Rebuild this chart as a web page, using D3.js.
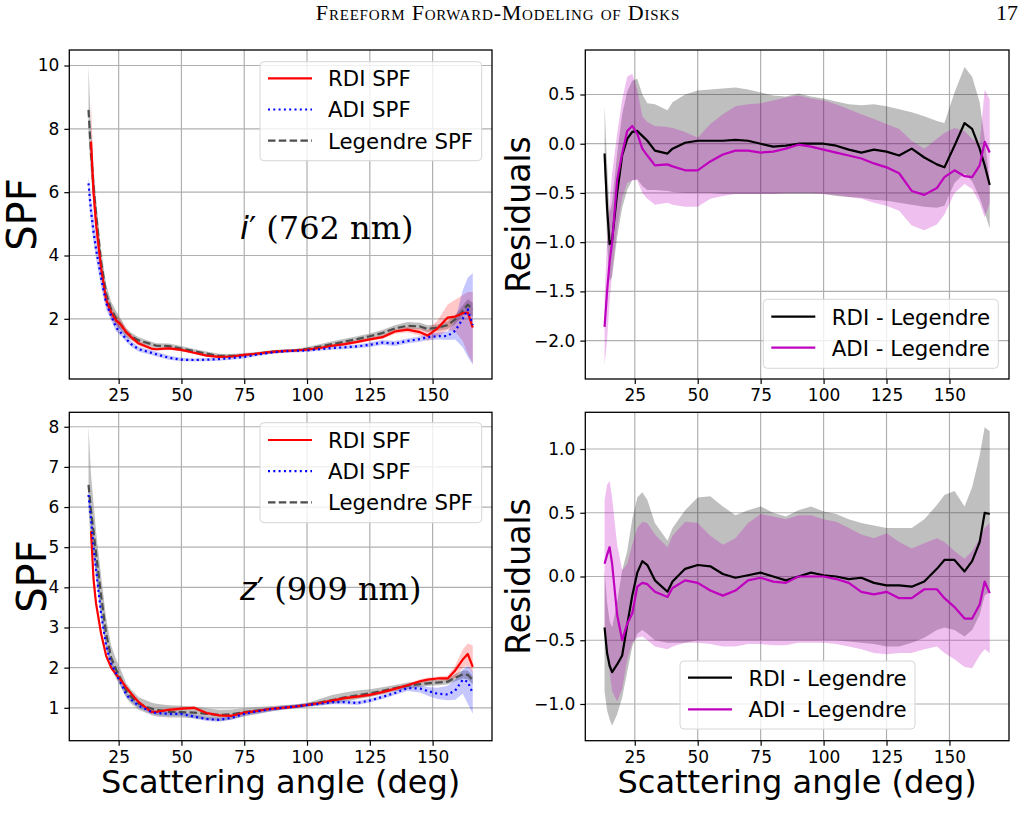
<!DOCTYPE html>
<html lang="en">
<head>
<meta charset="UTF-8">
<title>Freeform Forward-Modeling of Disks</title>
<script src="https://d3js.org/d3.v7.min.js"></script>
<style>
  body { margin: 0; background: #fff; }
  svg text { font-family: "DejaVu Sans", sans-serif; fill: #000; }
</style>
</head>
<body>
<div id="chart"></div>
<script>
// scattering angles shared by every curve (deg)
var angles = [13, 14, 15, 16, 18, 20, 22, 24, 26, 28, 30, 33, 38, 40, 45, 50, 55, 60, 65, 70, 75, 80, 85, 90, 95, 100, 105, 110, 115, 120, 125, 130, 135, 140, 145, 148, 152, 156, 159, 162, 164, 166];
var xTicks = [25, 50, 75, 100, 125, 150];

// i' band (762 nm) SPF
var iLeg   = [8.6, 7.2, 6.2, 5.3, 3.8, 2.8, 2.3, 2.02, 1.8, 1.57, 1.45, 1.32, 1.2, 1.15, 1.14, 1.06, 0.98, 0.9, 0.83, 0.83, 0.86, 0.9, 0.95, 0.98, 1.0, 1.05, 1.12, 1.2, 1.28, 1.36, 1.45, 1.55, 1.7, 1.78, 1.76, 1.68, 1.72, 1.8, 1.98, 2.25, 2.45, 2.3];
var iLegLo = [7.8, 6.5, 5.6, 4.8, 3.4, 2.5, 2.05, 1.8, 1.62, 1.42, 1.33, 1.22, 1.12, 1.08, 1.06, 0.98, 0.91, 0.84, 0.77, 0.77, 0.81, 0.85, 0.9, 0.94, 0.96, 0.99, 1.04, 1.11, 1.19, 1.27, 1.36, 1.45, 1.6, 1.68, 1.66, 1.58, 1.62, 1.68, 1.84, 2.08, 2.25, 2.05];
var iLegHi = [10.0, 8.0, 6.8, 5.8, 4.2, 3.1, 2.55, 2.25, 1.98, 1.7, 1.56, 1.42, 1.28, 1.23, 1.22, 1.14, 1.05, 0.97, 0.9, 0.89, 0.92, 0.95, 1.0, 1.03, 1.05, 1.11, 1.2, 1.29, 1.37, 1.45, 1.54, 1.65, 1.8, 1.9, 1.88, 1.8, 1.82, 1.92, 2.12, 2.42, 2.62, 2.5];
var iRdi   = [null, 7.6, 6.0, 5.0, 3.6, 2.6, 2.2, 1.95, 1.8, 1.58, 1.42, 1.22, 1.06, 1.04, 1.07, 1.02, 0.93, 0.84, 0.8, 0.81, 0.86, 0.9, 0.95, 0.98, 1.0, 1.03, 1.08, 1.15, 1.2, 1.27, 1.35, 1.42, 1.6, 1.66, 1.58, 1.47, 1.7, 2.04, 2.07, 2.18, 2.2, 1.72];
var iRdiLo = [null, 6.8, 5.5, 4.6, 3.3, 2.4, 2.02, 1.8, 1.68, 1.48, 1.33, 1.15, 1.01, 0.99, 1.02, 0.97, 0.89, 0.8, 0.76, 0.77, 0.82, 0.86, 0.91, 0.94, 0.96, 0.99, 1.04, 1.1, 1.15, 1.22, 1.3, 1.36, 1.53, 1.58, 1.47, 1.3, 1.45, 1.65, 1.6, 1.3, 0.9, 0.6];
var iRdiHi = [null, 8.9, 6.6, 5.4, 3.9, 2.85, 2.4, 2.12, 1.95, 1.7, 1.52, 1.3, 1.12, 1.09, 1.12, 1.07, 0.97, 0.88, 0.84, 0.85, 0.9, 0.94, 0.99, 1.02, 1.04, 1.07, 1.12, 1.2, 1.25, 1.32, 1.4, 1.48, 1.67, 1.74, 1.7, 1.65, 1.95, 2.45, 2.6, 2.75, 2.85, 2.85];
var iAdi   = [6.28, 5.4, 4.75, 4.2, 3.3, 2.5, 2.1, 1.72, 1.55, 1.36, 1.2, 1.04, 0.93, 0.88, 0.77, 0.71, 0.7, 0.71, 0.73, 0.76, 0.8, 0.87, 0.93, 0.97, 0.99, 1.0, 1.04, 1.08, 1.1, 1.13, 1.18, 1.25, 1.22, 1.3, 1.36, 1.42, 1.45, 1.46, 1.62, 2.0, 2.3, 1.8];
var iAdiLo = [5.8, 5.0, 4.4, 3.9, 3.0, 2.3, 1.95, 1.6, 1.45, 1.27, 1.12, 0.96, 0.86, 0.81, 0.71, 0.66, 0.65, 0.66, 0.68, 0.71, 0.75, 0.82, 0.88, 0.92, 0.94, 0.95, 0.99, 1.02, 1.04, 1.07, 1.11, 1.17, 1.14, 1.22, 1.28, 1.32, 1.35, 1.33, 1.35, 1.1, 0.8, 0.55];
var iAdiHi = [6.5, 5.8, 5.2, 4.6, 3.6, 2.75, 2.3, 1.9, 1.7, 1.48, 1.3, 1.12, 1.01, 0.96, 0.84, 0.77, 0.75, 0.76, 0.78, 0.81, 0.85, 0.92, 0.98, 1.02, 1.04, 1.05, 1.09, 1.14, 1.16, 1.19, 1.25, 1.33, 1.3, 1.38, 1.45, 1.52, 1.56, 1.6, 1.95, 2.9, 3.3, 3.45];

// z' band (909 nm) SPF
var zLeg   = [6.55, 5.9, 5.4, 4.85, 3.8, 2.85, 2.25, 1.95, 1.7, 1.42, 1.27, 1.1, 0.98, 0.95, 0.9, 0.89, 0.88, 0.85, 0.82, 0.84, 0.89, 0.93, 0.97, 1.0, 1.03, 1.07, 1.13, 1.19, 1.26, 1.31, 1.36, 1.42, 1.49, 1.55, 1.59, 1.61, 1.63, 1.65, 1.75, 1.83, 1.82, 1.69];
var zLegLo = [5.9, 5.1, 4.8, 4.3, 3.3, 2.5, 2.0, 1.72, 1.5, 1.25, 1.1, 0.95, 0.82, 0.78, 0.76, 0.76, 0.74, 0.7, 0.67, 0.71, 0.78, 0.84, 0.9, 0.95, 0.99, 1.03, 1.06, 1.1, 1.15, 1.21, 1.27, 1.33, 1.41, 1.47, 1.52, 1.54, 1.56, 1.58, 1.66, 1.73, 1.71, 1.58];
var zLegHi = [8.0, 6.8, 6.1, 5.4, 4.3, 3.25, 2.55, 2.2, 1.92, 1.62, 1.45, 1.26, 1.13, 1.1, 1.06, 1.05, 1.03, 0.99, 0.95, 0.96, 0.99, 1.02, 1.04, 1.06, 1.08, 1.12, 1.22, 1.32, 1.38, 1.43, 1.46, 1.51, 1.57, 1.63, 1.66, 1.68, 1.7, 1.72, 1.84, 1.93, 1.93, 1.8];
var zRdi   = [null, 5.4, 4.2, 3.6, 2.85, 2.3, 2.0, 1.83, 1.68, 1.51, 1.35, 1.14, 0.9, 0.9, 0.95, 0.98, 1.0, 0.87, 0.81, 0.8, 0.88, 0.92, 0.97, 1.0, 1.03, 1.07, 1.12, 1.18, 1.24, 1.28, 1.32, 1.39, 1.47, 1.56, 1.66, 1.7, 1.73, 1.73, 1.93, 2.2, 2.34, 2.02];
var zRdiLo = [null, 5.0, 4.0, 3.45, 2.75, 2.22, 1.94, 1.78, 1.63, 1.46, 1.31, 1.1, 0.86, 0.86, 0.91, 0.94, 0.96, 0.83, 0.77, 0.76, 0.84, 0.88, 0.93, 0.96, 0.99, 1.03, 1.08, 1.14, 1.2, 1.24, 1.28, 1.35, 1.43, 1.52, 1.61, 1.65, 1.68, 1.68, 1.75, 2.0, 2.05, 1.85];
var zRdiHi = [null, 5.6, 4.5, 3.75, 2.95, 2.38, 2.06, 1.88, 1.73, 1.56, 1.39, 1.18, 0.94, 0.94, 0.99, 1.02, 1.04, 0.91, 0.85, 0.84, 0.92, 0.96, 1.01, 1.04, 1.07, 1.11, 1.16, 1.22, 1.28, 1.32, 1.36, 1.43, 1.51, 1.6, 1.71, 1.75, 1.78, 1.8, 2.05, 2.45, 2.6, 2.55];
var zAdi   = [6.3, 5.7, 5.0, 4.45, 3.35, 2.55, 2.1, 1.85, 1.6, 1.33, 1.2, 1.05, 0.9, 0.87, 0.85, 0.85, 0.78, 0.72, 0.7, 0.75, 0.85, 0.91, 0.96, 1.0, 1.03, 1.07, 1.1, 1.14, 1.14, 1.12, 1.18, 1.27, 1.37, 1.49, 1.48, 1.42, 1.35, 1.33, 1.43, 1.7, 1.65, 1.36];
var zAdiLo = [6.1, 5.5, 4.8, 4.25, 3.2, 2.45, 2.02, 1.78, 1.54, 1.28, 1.15, 1.0, 0.85, 0.82, 0.8, 0.8, 0.73, 0.67, 0.65, 0.7, 0.8, 0.86, 0.91, 0.95, 0.98, 1.02, 1.05, 1.09, 1.09, 1.07, 1.13, 1.22, 1.32, 1.42, 1.38, 1.3, 1.22, 1.19, 1.2, 1.35, 1.1, 0.85];
var zAdiHi = [6.5, 5.9, 5.2, 4.65, 3.5, 2.65, 2.18, 1.92, 1.66, 1.38, 1.25, 1.1, 0.95, 0.92, 0.9, 0.9, 0.83, 0.77, 0.75, 0.8, 0.9, 0.96, 1.01, 1.05, 1.08, 1.12, 1.15, 1.19, 1.19, 1.17, 1.23, 1.32, 1.42, 1.56, 1.55, 1.52, 1.5, 1.55, 1.7, 1.95, 2.05, 1.9];

// i' band residuals
var iResRdi   = [-0.1, -0.65, -1.02, -0.98, -0.5, -0.12, 0.05, 0.12, 0.13, 0.08, 0.03, -0.07, -0.1, -0.05, 0.01, 0.03, 0.03, 0.03, 0.04, 0.03, 0.0, -0.03, -0.02, 0.0, 0.0, 0.0, -0.02, -0.06, -0.09, -0.06, -0.08, -0.12, -0.05, -0.14, -0.21, -0.24, -0.02, 0.21, 0.15, -0.05, -0.22, -0.42];
var iResRdiLo = [-0.3, -1.0, -1.4, -1.35, -0.95, -0.65, -0.47, -0.37, -0.36, -0.43, -0.47, -0.47, -0.48, -0.49, -0.5, -0.5, -0.5, -0.51, -0.51, -0.51, -0.51, -0.51, -0.51, -0.51, -0.51, -0.51, -0.53, -0.54, -0.55, -0.57, -0.58, -0.6, -0.62, -0.64, -0.65, -0.63, -0.4, -0.3, -0.38, -0.55, -0.7, -0.86];
var iResRdiHi = [0.39, -0.2, -0.7, -0.6, -0.1, 0.3, 0.53, 0.64, 0.66, 0.5, 0.41, 0.4, 0.34, 0.42, 0.5, 0.54, 0.55, 0.56, 0.57, 0.55, 0.52, 0.49, 0.48, 0.51, 0.48, 0.46, 0.43, 0.4, 0.39, 0.4, 0.38, 0.35, 0.32, 0.28, 0.23, 0.21, 0.52, 0.78, 0.68, 0.42, 0.05, -0.4];
var iResAdi   = [-1.86, -1.5, -1.2, -1.0, -0.37, -0.1, 0.13, 0.18, 0.1, -0.05, -0.12, -0.22, -0.21, -0.23, -0.27, -0.27, -0.18, -0.11, -0.07, -0.07, -0.09, -0.08, -0.05, -0.01, -0.03, -0.06, -0.09, -0.12, -0.15, -0.2, -0.24, -0.3, -0.48, -0.52, -0.45, -0.34, -0.27, -0.33, -0.34, -0.22, 0.02, -0.09];
var iResAdiLo = [-2.25, -2.0, -1.6, -1.3, -0.85, -0.55, -0.4, -0.37, -0.37, -0.5, -0.56, -0.62, -0.6, -0.62, -0.64, -0.64, -0.56, -0.53, -0.51, -0.51, -0.51, -0.51, -0.5, -0.5, -0.5, -0.51, -0.52, -0.54, -0.56, -0.6, -0.63, -0.68, -0.83, -0.88, -0.82, -0.72, -0.5, -0.41, -0.46, -0.6, -0.75, -0.6];
var iResAdiHi = [-1.55, -1.0, -0.6, -0.3, 0.1, 0.45, 0.68, 0.71, 0.55, 0.28, 0.22, 0.18, 0.17, 0.16, 0.12, 0.06, 0.2, 0.3, 0.38, 0.4, 0.41, 0.44, 0.47, 0.49, 0.46, 0.44, 0.4, 0.35, 0.3, 0.25, 0.2, 0.15, 0.03, -0.05, 0.05, 0.11, 0.16, 0.13, 0.05, 0.0, 0.55, 0.45];

// z' band residuals
var zResRdi   = [-0.4, -0.6, -0.7, -0.75, -0.69, -0.62, -0.38, -0.15, 0.03, 0.12, 0.09, -0.03, -0.12, -0.04, 0.06, 0.09, 0.08, 0.02, -0.01, 0.01, 0.03, 0.0, -0.03, 0.0, 0.03, 0.01, 0.0, -0.02, -0.01, -0.05, -0.07, -0.07, -0.08, -0.04, 0.06, 0.13, 0.13, 0.04, 0.12, 0.27, 0.5, 0.49];
var zResRdiLo = [-0.9, -1.05, -1.12, -1.17, -1.08, -0.95, -0.75, -0.55, -0.45, -0.42, -0.45, -0.5, -0.52, -0.52, -0.52, -0.5, -0.5, -0.5, -0.5, -0.5, -0.5, -0.5, -0.5, -0.5, -0.5, -0.5, -0.5, -0.51, -0.52, -0.53, -0.55, -0.55, -0.52, -0.48, -0.42, -0.4, -0.42, -0.47, -0.42, -0.3, -0.15, -0.12];
var zResRdiHi = [0.05, -0.2, -0.35, -0.4, -0.2, 0.05, 0.2, 0.45, 0.62, 0.66, 0.6, 0.42, 0.28, 0.38, 0.52, 0.62, 0.63, 0.55, 0.48, 0.52, 0.55, 0.5, 0.47, 0.52, 0.55, 0.51, 0.49, 0.45, 0.42, 0.4, 0.38, 0.38, 0.38, 0.45, 0.56, 0.64, 0.67, 0.55, 0.7, 0.95, 1.17, 1.14];
var zResAdi   = [0.1, 0.17, 0.23, 0.1, -0.3, -0.5, -0.37, -0.29, -0.08, -0.05, -0.06, -0.12, -0.16, -0.09, -0.03, -0.05, -0.11, -0.15, -0.11, -0.03, -0.01, -0.04, -0.05, 0.0, 0.0, 0.0, -0.02, -0.05, -0.12, -0.14, -0.12, -0.17, -0.17, -0.1, -0.1, -0.17, -0.24, -0.33, -0.33, -0.22, -0.04, -0.13];
var zResAdiLo = [-0.4, -0.55, -0.75, -0.9, -0.98, -0.88, -0.65, -0.52, -0.48, -0.47, -0.5, -0.55, -0.57, -0.55, -0.52, -0.52, -0.53, -0.55, -0.55, -0.53, -0.53, -0.54, -0.54, -0.52, -0.52, -0.52, -0.53, -0.55, -0.57, -0.6, -0.61, -0.6, -0.6, -0.57, -0.55, -0.6, -0.65, -0.71, -0.72, -0.62, -0.57, -0.6];
var zResAdiHi = [0.6, 0.72, 0.75, 0.62, 0.25, 0.05, 0.1, 0.25, 0.38, 0.43, 0.42, 0.33, 0.23, 0.32, 0.43, 0.42, 0.32, 0.25, 0.3, 0.42, 0.49, 0.47, 0.45, 0.48, 0.48, 0.45, 0.43, 0.38, 0.33, 0.3, 0.34, 0.27, 0.22, 0.26, 0.3, 0.27, 0.2, 0.14, 0.2, 0.3, 0.38, 0.42];

var W = 1025, H = 827;
var svg = d3.select("#chart").append("svg")
    .attr("width", W)
    .attr("height", H);
svg.append("rect").attr("width", W).attr("height", H).attr("fill", "#fff");

// running header
svg.append("text")
    .attr("x", 498).attr("y", 20)
    .attr("text-anchor", "middle")
    .style("font-family", "'Liberation Serif', 'DejaVu Serif', serif")
    .style("font-variant", "small-caps")
    .style("font-size", "22px")
    .style("letter-spacing", "0.8px")
    .text("Freeform Forward-Modeling of Disks");
svg.append("text")
    .attr("x", 1018).attr("y", 20)
    .attr("text-anchor", "end")
    .style("font-family", "'Liberation Serif', 'DejaVu Serif', serif")
    .style("font-size", "22px")
    .text("17");

var minus = function(s) { return s.replace("-", "\u2212"); };

function drawPanel(p) {
    var x = d3.scaleLinear().domain([5.35, 173.65]).range([p.left, p.right]);
    var y = d3.scaleLinear().domain(p.yDomain).range([p.bottom, p.top]);
    var g = svg.append("g");

    var clipId = "clip" + p.id;
    g.append("clipPath").attr("id", clipId)
        .append("rect")
        .attr("x", p.left).attr("y", p.top)
        .attr("width", p.right - p.left).attr("height", p.bottom - p.top);

    // grid
    var grid = g.append("g").attr("stroke", "#b0b0b0").attr("stroke-width", 1.2);
    grid.selectAll(".gx").data(xTicks).join("line")
        .attr("x1", d => x(d)).attr("x2", d => x(d))
        .attr("y1", p.top).attr("y2", p.bottom);
    grid.selectAll(".gy").data(p.yTicks).join("line")
        .attr("x1", p.left).attr("x2", p.right)
        .attr("y1", d => y(d)).attr("y2", d => y(d));

    var plot = g.append("g").attr("clip-path", "url(#" + clipId + ")");

    // shaded uncertainty bands
    p.bands.forEach(function(b) {
        var area = d3.area()
            .defined((d, i) => b.lo[i] != null && b.hi[i] != null)
            .x((d, i) => x(angles[i]))
            .y0((d, i) => y(b.lo[i]))
            .y1((d, i) => y(b.hi[i]));
        plot.append("path")
            .datum(angles)
            .attr("d", area)
            .attr("fill", b.fill)
            .attr("fill-opacity", b.opacity)
            .attr("stroke", "none");
    });

    // curves
    p.lines.forEach(function(l) {
        var line = d3.line()
            .defined((d, i) => l.values[i] != null)
            .x((d, i) => x(angles[i]))
            .y((d, i) => y(l.values[i]));
        plot.append("path")
            .datum(angles)
            .attr("d", line)
            .attr("fill", "none")
            .attr("stroke", l.color)
            .attr("stroke-width", 2.2)
            .attr("stroke-dasharray", l.dash || null)
            .attr("stroke-linejoin", "round");
    });

    // axes
    var xAxis = g.append("g")
        .attr("transform", "translate(0," + p.bottom + ")")
        .call(d3.axisBottom(x).tickValues(xTicks).tickSize(5).tickPadding(5));
    var yAxis = g.append("g")
        .attr("transform", "translate(" + p.left + ",0)")
        .call(d3.axisLeft(y).tickValues(p.yTicks).tickSize(5).tickPadding(5)
            .tickFormat(d => minus(d3.format(p.fmt)(d))));
    [xAxis, yAxis].forEach(function(a) {
        a.select(".domain").remove();
        a.selectAll("text").style("font-size", "17px").style("font-family", "'DejaVu Sans', sans-serif");
        a.selectAll("line").attr("stroke", "#000").attr("stroke-width", 1.2);
    });

    g.append("rect")
        .attr("x", p.left).attr("y", p.top)
        .attr("width", p.right - p.left).attr("height", p.bottom - p.top)
        .attr("fill", "none").attr("stroke", "#000").attr("stroke-width", 1.3);

    // legend
    var lg = p.legend;
    var leg = g.append("g");
    leg.append("rect")
        .attr("x", lg.x).attr("y", lg.y).attr("width", lg.w).attr("height", lg.h)
        .attr("rx", 4)
        .attr("fill", "#fff").attr("fill-opacity", 0.8)
        .attr("stroke", "#d6d6d6").attr("stroke-width", 1);
    lg.items.forEach(function(it, i) {
        var cy = lg.y + lg.first + i * lg.step;
        leg.append("line")
            .attr("x1", lg.x + 8).attr("x2", lg.x + 52)
            .attr("y1", cy).attr("y2", cy)
            .attr("stroke", it.color).attr("stroke-width", 2.2)
            .attr("stroke-dasharray", it.dash || null);
        leg.append("text")
            .attr("x", lg.x + lg.textX).attr("y", cy + 7.8)
            .style("font-size", "21.3px")
            .text(it.label);
    });

    // y label
    svg.append("text")
        .attr("transform", "translate(" + p.yLabelX + "," + ((p.top + p.bottom) / 2) + ") rotate(-90)")
        .attr("text-anchor", "middle")
        .style("font-size", p.yLabelSize + "px")
        .text(p.yLabel);

    if (p.xLabel) {
        svg.append("text")
            .attr("x", (p.left + p.right) / 2).attr("y", p.bottom + 52)
            .attr("text-anchor", "middle")
            .style("font-size", "32px")
            .text("Scattering angle (deg)");
    }

    if (p.note) {
        var t = svg.append("text")
            .attr("x", p.note.x).attr("y", p.note.y)
            .style("font-size", "32px");
        t.append("tspan").style("font-family", "'DejaVu Sans', sans-serif").style("font-style", "italic").text(p.note.sym);
        t.append("tspan").style("font-family", "'DejaVu Sans', sans-serif").text("\u2032");
        t.append("tspan").style("font-family", "'DejaVu Serif', serif").text(" " + p.note.text);
    }
}

var spfItems = [
    { label: "RDI SPF", color: "#ff0000" },
    { label: "ADI SPF", color: "#0000ff", dash: "2,3.3" },
    { label: "Legendre SPF", color: "#4d4d4d", dash: "7.5,3.3" }
];
var resItems = [
    { label: "RDI - Legendre", color: "#000000" },
    { label: "ADI - Legendre", color: "#bf00bf" }
];

drawPanel({
    id: "tl", left: 69.3, right: 492, top: 50, bottom: 379,
    yDomain: [0.1, 10.49], yTicks: [2, 4, 6, 8, 10], fmt: "d",
    bands: [
        { lo: iLegLo, hi: iLegHi, fill: "#808080", opacity: 0.5 },
        { lo: iRdiLo, hi: iRdiHi, fill: "#ff0000", opacity: 0.22 },
        { lo: iAdiLo, hi: iAdiHi, fill: "#0000ff", opacity: 0.22 }
    ],
    lines: [
        { values: iLeg, color: "#4d4d4d", dash: "7.5,3.3" },
        { values: iRdi, color: "#ff0000" },
        { values: iAdi, color: "#0000ff", dash: "2,3.3" }
    ],
    legend: { x: 260, y: 61.7, w: 221.7, h: 99, first: 16.6, step: 31.2, textX: 68, items: spfItems },
    yLabel: "SPF", yLabelX: 36, yLabelSize: 40,
    note: { x: 240, y: 239, sym: "i", text: "(762 nm)" }
});

drawPanel({
    id: "tr", left: 585.3, right: 1009, top: 50, bottom: 379,
    yDomain: [-2.39, 0.952], yTicks: [-2.0, -1.5, -1.0, -0.5, 0.0, 0.5], fmt: ".1f",
    bands: [
        { lo: iResRdiLo, hi: iResRdiHi, fill: "#000000", opacity: 0.25 },
        { lo: iResAdiLo, hi: iResAdiHi, fill: "#bf00bf", opacity: 0.25 }
    ],
    lines: [
        { values: iResRdi, color: "#000000" },
        { values: iResAdi, color: "#bf00bf" }
    ],
    legend: { x: 763.3, y: 299.3, w: 235, h: 69, first: 17.4, step: 31, textX: 68.4, items: resItems },
    yLabel: "Residuals", yLabelX: 530, yLabelSize: 33
});

drawPanel({
    id: "bl", left: 69.3, right: 492, top: 412.3, bottom: 740.7,
    yDomain: [0.18, 8.36], yTicks: [1, 2, 3, 4, 5, 6, 7, 8], fmt: "d",
    bands: [
        { lo: zLegLo, hi: zLegHi, fill: "#808080", opacity: 0.5 },
        { lo: zRdiLo, hi: zRdiHi, fill: "#ff0000", opacity: 0.22 },
        { lo: zAdiLo, hi: zAdiHi, fill: "#0000ff", opacity: 0.22 }
    ],
    lines: [
        { values: zLeg, color: "#4d4d4d", dash: "7.5,3.3" },
        { values: zRdi, color: "#ff0000" },
        { values: zAdi, color: "#0000ff", dash: "2,3.3" }
    ],
    legend: { x: 260, y: 422.7, w: 221.7, h: 100, first: 17.3, step: 31.2, textX: 68, items: spfItems },
    yLabel: "SPF", yLabelX: 46, yLabelSize: 40, xLabel: true,
    note: { x: 240, y: 600, sym: "z", text: "(909 nm)" }
});

drawPanel({
    id: "br", left: 585.3, right: 1009, top: 412.3, bottom: 740.7,
    yDomain: [-1.288, 1.288], yTicks: [-1.0, -0.5, 0.0, 0.5, 1.0], fmt: ".1f",
    bands: [
        { lo: zResRdiLo, hi: zResRdiHi, fill: "#000000", opacity: 0.25 },
        { lo: zResAdiLo, hi: zResAdiHi, fill: "#bf00bf", opacity: 0.25 }
    ],
    lines: [
        { values: zResRdi, color: "#000000" },
        { values: zResAdi, color: "#bf00bf" }
    ],
    legend: { x: 680, y: 661, w: 235, h: 68, first: 16.7, step: 31.6, textX: 68.4, items: resItems },
    yLabel: "Residuals", yLabelX: 530, yLabelSize: 33, xLabel: true
});
</script>
</body>
</html>
